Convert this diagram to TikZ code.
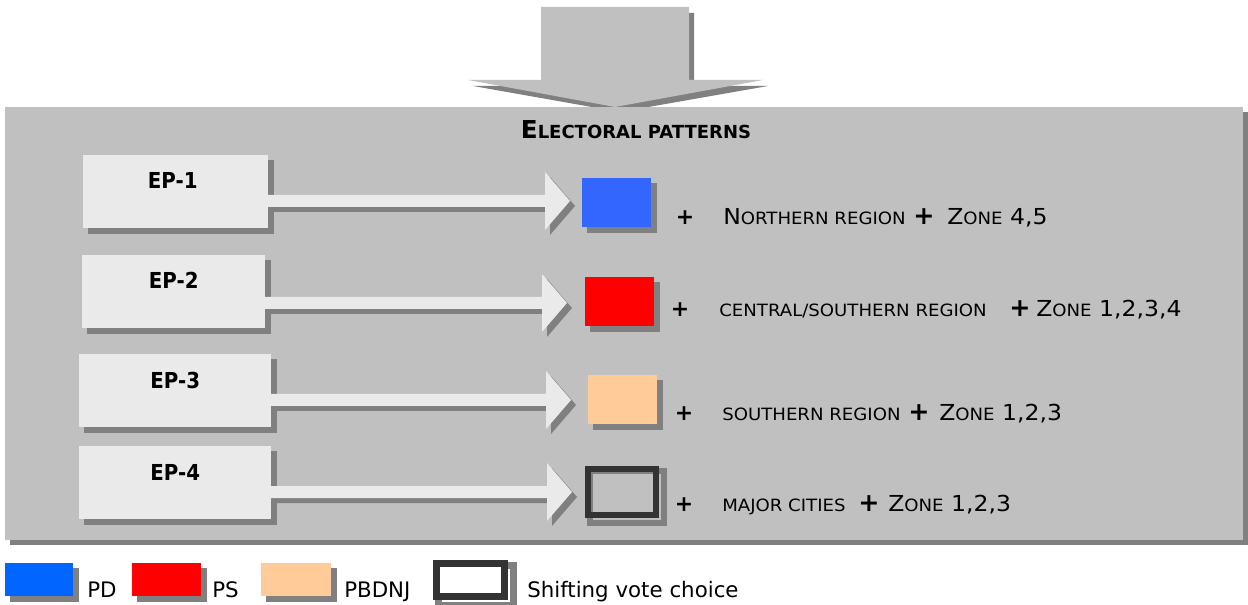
\documentclass[tikz,border=0pt]{standalone}
\usepackage{fontspec}
\setmainfont{DejaVu Sans}
\newfontfamily\condfont{DejaVu Sans Condensed}
\newfontfamily\rowfont{DejaVu Sans}[FakeStretch=1.07]
\usetikzlibrary{calc}

\pgfdeclarelayer{backdrop}
\pgfdeclarelayer{shade}
\pgfsetlayers{backdrop,shade,main}

\definecolor{panelgray}{HTML}{C0C0C0}
\definecolor{shadowgray}{HTML}{808080}
\definecolor{boxgray}{HTML}{EAEAEA}
\definecolor{pdblue}{HTML}{3366FF}
\definecolor{pdlegend}{HTML}{0066FF}
\definecolor{psred}{HTML}{FF0000}
\definecolor{pbpeach}{HTML}{FFCC99}
\definecolor{framedark}{HTML}{333333}

\newcommand{\bigsz}{\fontsize{16.5}{18}\selectfont}
\newcommand{\smallsz}{\fontsize{12.7}{14}\selectfont}
\newcommand{\sctext}[1]{{\smallsz #1}}

\tikzset{
  epbox/.style={fill=boxgray, minimum height=73*0.75pt, inner sep=0pt, anchor=north west},
  swatch/.style={minimum width=69*0.75pt, minimum height=49*0.75pt, inner sep=0pt, anchor=north west},
  eplabel/.style={font=\condfont\bfseries\bigsz, anchor=base, inner sep=0pt},
  rowtext/.style={font=\rowfont\bigsz, anchor=base west, inner sep=0pt},
  plussign/.style={font=\bfseries\bigsz, anchor=base, inner sep=0pt},
  bigplus/.style={font=\bfseries\fontsize{19}{20}\selectfont, anchor=base, inner sep=0pt},
  legendtext/.style={font=\fontsize{16}{18}\selectfont, anchor=base west, inner sep=0pt},
  frameline/.style={line width=6*0.75pt},
}

\begin{document}
\begin{tikzpicture}[x=0.75pt,y=-0.75pt]
\useasboundingbox (0,0) rectangle (1248,605);

% ---- top block arrow and grey panel
\begin{pgfonlayer}{backdrop}
  \fill[shadowgray] (546,13) -- (694,13) -- (694,86) -- (768,86) -- (620,112) -- (473,86) -- (546,86) -- cycle;
  \fill[panelgray] (541,7) -- (689,7) -- (689,80) -- (763,80) -- (615,107) -- (468,80) -- (541,80) -- cycle;
  \fill[shadowgray] (10,112) rectangle (1248,545);
  \fill[panelgray] (5,107) rectangle (1243,540);
\end{pgfonlayer}

\node[font=\bfseries\fontsize{18.5}{20}\selectfont, anchor=base, inner sep=0pt] (title) at (636,139)
  {E{\fontsize{13.5}{15}\selectfont LECTORAL PATTERNS}};

% ---- pattern boxes
\node[epbox, minimum width=185*0.75pt] (ep1) at (83,155) {};
\node[epbox, minimum width=183*0.75pt] (ep2) at (82,255) {};
\node[epbox, minimum width=192*0.75pt] (ep3) at (79,354) {};
\node[epbox, minimum width=192*0.75pt] (ep4) at (79,446) {};
\node[eplabel] (ep1t) at ($(ep1.north)+(-3,34)$) {EP-1};
\node[eplabel] (ep2t) at ($(ep2.north)+(0,34)$) {EP-2};
\node[eplabel] (ep3t) at ($(ep3.north)+(0,34)$) {EP-3};
\node[eplabel] (ep4t) at ($(ep4.north)+(0,34)$) {EP-4};

% ---- party swatches
\node[swatch, fill=pdblue] (sq1) at (582,178) {};
\node[swatch, fill=psred] (sq2) at (585,277) {};
\node[swatch, fill=pbpeach] (sq3) at (588,375) {};
\node[frameline, draw=framedark, minimum width=68*0.75pt, minimum height=46*0.75pt, inner sep=0pt] (sq4) at (622,492) {};

% ---- arrow tips
\coordinate (tip1) at (570,201);
\coordinate (tip2) at (567,303);
\coordinate (tip3) at (571,400);
\coordinate (tip4) at (572,492);

\foreach \b/\t in {ep1/tip1, ep2/tip2, ep3/tip3, ep4/tip4}{
  \fill[boxgray] ($(\b.east|-\t)+(-1,-6)$) -- ($(\t)+(-25,-6)$) -- ($(\t)+(-25,-29)$) -- (\t)
     -- ($(\t)+(-25,29)$) -- ($(\t)+(-25,6)$) -- ($(\b.east|-\t)+(-1,6)$) -- cycle;
}

% ---- drop shadows
\begin{pgfonlayer}{shade}
  \foreach \b in {ep1,ep2,ep3,ep4,sq1,sq2,sq3}{
    \fill[shadowgray] ([shift={(5,5)}]\b.north west) rectangle ([shift={(5,5)}]\b.south east);
  }
  \draw[shadowgray, frameline] ([shift={(5,5)}]sq4.north west) rectangle ([shift={(5,5)}]sq4.south east);
  \foreach \b/\t in {ep1/tip1, ep2/tip2, ep3/tip3, ep4/tip4}{
    \fill[shadowgray, transform canvas={shift={(5,5)}}] ($(\b.east|-\t)+(-1,-6)$) -- ($(\t)+(-25,-6)$) -- ($(\t)+(-25,-29)$) -- (\t)
       -- ($(\t)+(-25,29)$) -- ($(\t)+(-25,6)$) -- ($(\b.east|-\t)+(-1,6)$) -- cycle;
  }
\end{pgfonlayer}

% ---- descriptions
\node[plussign] (p1a) at (685,225) {+};
\node[rowtext] (r1) at (723,225) {N\sctext{ORTHERN REGION}};
\node[bigplus] (p1b) at (924,225) {+};
\node[rowtext] (z1) at (947,225) {Z\sctext{ONE} 4,5};

\node[plussign] (p2a) at (680,317) {+};
\node[rowtext] (r2) at (719,317) {\sctext{CENTRAL/SOUTHERN REGION}};
\node[bigplus] (p2b) at (1020,317) {+};
\node[rowtext] (z2) at (1036,317) {Z\sctext{ONE} 1,2,3,4};

\node[plussign] (p3a) at (684,421) {+};
\node[rowtext] (r3) at (722,421) {\sctext{SOUTHERN REGION}};
\node[bigplus] (p3b) at (919,421) {+};
\node[rowtext] (z3) at (939,421) {Z\sctext{ONE} 1,2,3};

\node[plussign] (p4a) at (684,511) {+};
\node[rowtext] (r4) at (722,511) {\sctext{MAJOR CITIES}};
\node[bigplus] (p4b) at (869,511) {+};
\node[rowtext] (z4) at (888,511) {Z\sctext{ONE} 1,2,3};

% ---- legend
\node[swatch, fill=pdlegend, minimum width=68*0.75pt, minimum height=33*0.75pt] (lg1) at (5,563) {};
\node[swatch, fill=psred, minimum width=69*0.75pt, minimum height=33*0.75pt] (lg2) at (132,563) {};
\node[swatch, fill=pbpeach, minimum width=70*0.75pt, minimum height=33*0.75pt] (lg3) at (261,563) {};
\node[line width=7*0.75pt, draw=framedark, fill=white, minimum width=68*0.75pt, minimum height=33*0.75pt, inner sep=0pt] (lg4) at (470.5,580) {};
\begin{pgfonlayer}{shade}
  \foreach \b in {lg1,lg2,lg3}{
    \fill[shadowgray] ([shift={(5,5)}]\b.north west) rectangle ([shift={(5,5)}]\b.south east);
  }
  \draw[shadowgray, line width=7*0.75pt] ([shift={(5,5)}]lg4.north west) rectangle ([shift={(5,5)}]lg4.south east);
\end{pgfonlayer}
\node[legendtext] (lg1t) at (87,597) {PD};
\node[legendtext] (lg2t) at (212,597) {PS};
\node[legendtext] (lg3t) at (344,597) {PBDNJ};
\node[legendtext] (lg4t) at (527,597) {Shifting vote choice};
\end{tikzpicture}
\end{document}
